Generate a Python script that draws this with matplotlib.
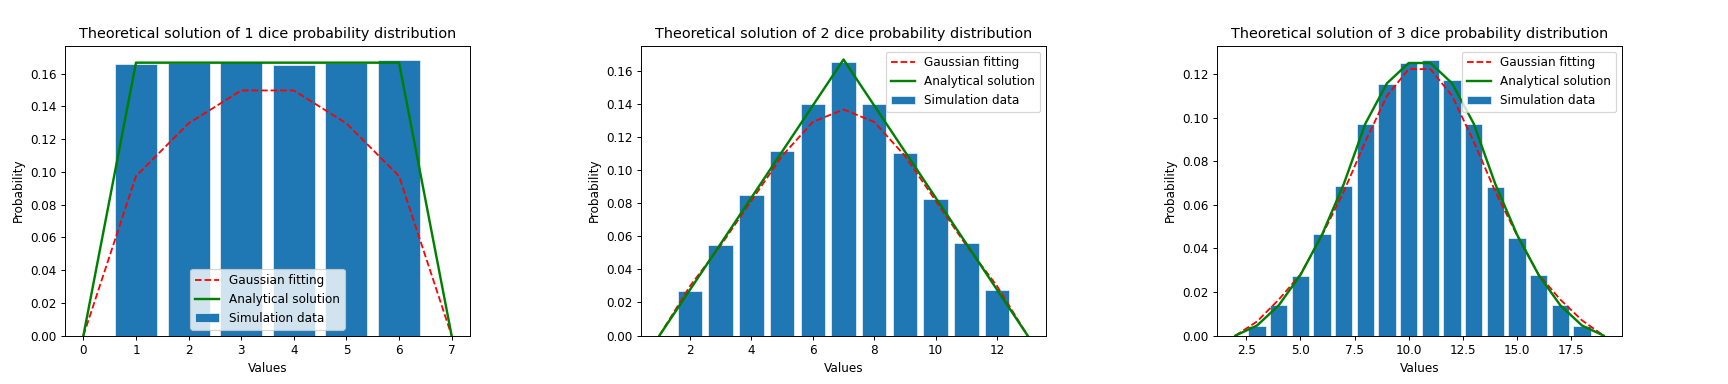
import matplotlib
matplotlib.use("Agg")
import matplotlib.pyplot as plt

# 1 dice
x1_bar = [1, 2, 3, 4, 5, 6]
sim1 = [0.1661, 0.1664, 0.1668, 0.1655, 0.1662, 0.1686]
x1_line = [0, 1, 2, 3, 4, 5, 6, 7]
gauss1 = [0, 0.0974, 0.1296, 0.1497, 0.1497, 0.1296, 0.0974, 0]
exact1 = [0, 1/6, 1/6, 1/6, 1/6, 1/6, 1/6, 0]

# 2 dice
x2_bar = [2, 3, 4, 5, 6, 7, 8, 9, 10, 11, 12]
sim2 = [0.0270, 0.0548, 0.0847, 0.1117, 0.1399, 0.1653, 0.1399, 0.1103, 0.0827, 0.0558, 0.0274]
x2_line = [1, 2, 3, 4, 5, 6, 7, 8, 9, 10, 11, 12, 13]
gauss2 = [0, 0.0300, 0.0545, 0.0815, 0.1085, 0.1290, 0.1365, 0.1290, 0.1085, 0.0815, 0.0545, 0.0300, 0]
exact2 = [0, 1/36, 2/36, 3/36, 4/36, 5/36, 6/36, 5/36, 4/36, 3/36, 2/36, 1/36, 0]

# 3 dice
x3_bar = [3, 4, 5, 6, 7, 8, 9, 10, 11, 12, 13, 14, 15, 16, 17, 18]
sim3 = [0.0044, 0.0139, 0.0274, 0.0467, 0.0687, 0.0972, 0.1153, 0.1248,
        0.1266, 0.1170, 0.0968, 0.0681, 0.0449, 0.0279, 0.0139, 0.0046]
x3_line = [2, 3, 4, 5, 6, 7, 8, 9, 10, 11, 12, 13, 14, 15, 16, 17, 18, 19]
gauss3 = [0, 0.0065, 0.0165, 0.0280, 0.0460, 0.0660, 0.0890, 0.1100, 0.1222,
          0.1222, 0.1100, 0.0890, 0.0660, 0.0460, 0.0280, 0.0165, 0.0070, 0]
exact3 = [0, 1/216, 3/216, 6/216, 10/216, 15/216, 21/216, 25/216, 27/216,
          27/216, 25/216, 21/216, 15/216, 10/216, 6/216, 3/216, 1/216, 0]

panels = [
    (1, x1_bar, sim1, x1_line, gauss1, exact1, "lower center"),
    (2, x2_bar, sim2, x2_line, gauss2, exact2, "upper right"),
    (3, x3_bar, sim3, x3_line, gauss3, exact3, "upper right"),
]

fig, axes = plt.subplots(1, 3, figsize=(20, 40/9), dpi=86.4)
plt.subplots_adjust(left=0.0376, right=0.9387, top=0.881, bottom=0.126, wspace=0.422)

for ax, (n, xb, sim, xl, gauss, exact, loc) in zip(axes, panels):
    bars = ax.bar(xb, sim, width=0.8, color="#1f77b4", edgecolor="white", linewidth=0.5,
                  label="Simulation data")
    g, = ax.plot(xl, gauss, "r--", linewidth=1.5, label="Gaussian fitting")
    a, = ax.plot(xl, exact, color="g", linewidth=2, label="Analytical solution")
    ax.set_title("Theoretical solution of %d dice probability distribution" % n)
    ax.set_xlabel("Values")
    ax.set_ylabel("Probability")
    ax.legend(handles=[g, a, bars], loc=loc)

plt.savefig("out.png", dpi=86.4)
